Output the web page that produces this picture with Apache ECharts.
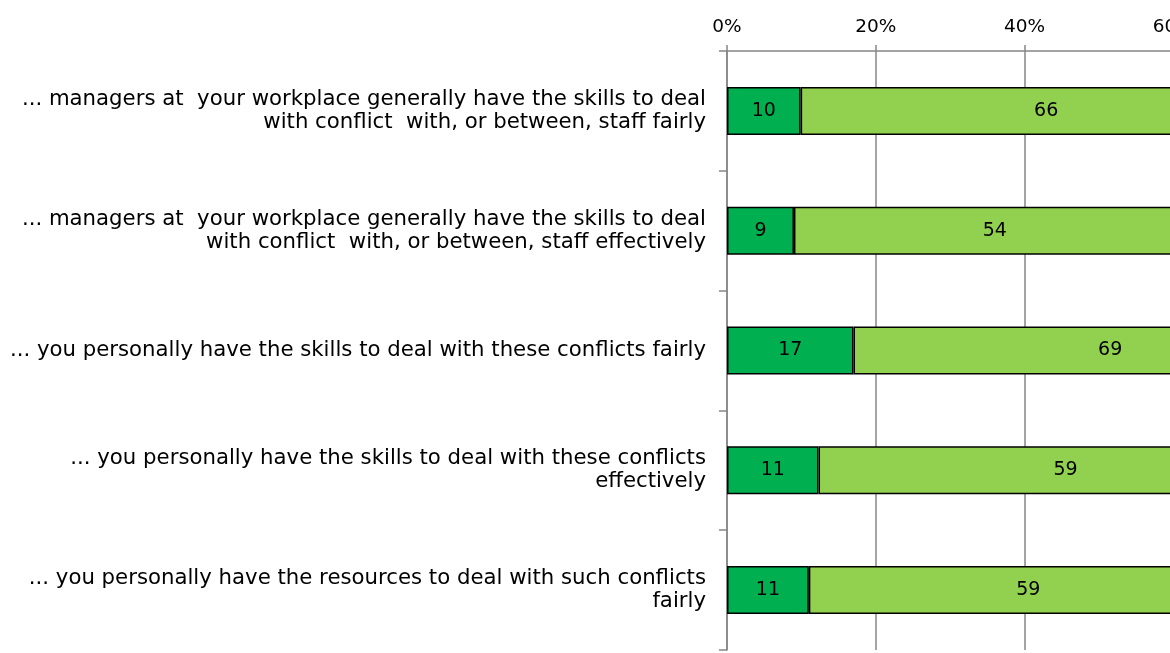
<!DOCTYPE html>
<html>
<head>
<meta charset="utf-8">
<script src="https://cdn.jsdelivr.net/npm/echarts@6/dist/echarts.min.js"></script>
<style>
  html, body { margin: 0; padding: 0; background: #fff; }
  #chart { width: 1170px; height: 653px; }
</style>
</head>
<body>
<div id="chart"></div>
<script>
  var statements = [
    '... managers at  your workplace generally have the skills to deal\nwith conflict  with, or between, staff fairly',
    '... managers at  your workplace generally have the skills to deal\nwith conflict  with, or between, staff effectively',
    '... you personally have the skills to deal with these conflicts fairly',
    '... you personally have the skills to deal with these conflicts\neffectively',
    '... you personally have the resources to deal with such conflicts\nfairly'
  ];
  // bar lengths as measured on the picture
  var stronglyAgree = [9.9, 9.0, 17.0, 12.3, 11.0];
  var agree = [66, 54, 69, 66.4, 59];
  // numbers printed on the bars
  var stronglyAgreeLabels = ['10', '9', '17', '11', '11'];
  var agreeLabels = ['66', '54', '69', '59', '59'];
  var xTicks = [0, 20, 40, 60, 80, 100];

  var chart = echarts.init(document.getElementById('chart'));
  var grey = '#868686';

  function barSeries(name, values, labels, color) {
    return {
      name: name,
      type: 'bar',
      stack: 'total',
      data: values,
      barWidth: 48,
      itemStyle: { color: color, borderColor: '#000', borderWidth: 1.5 },
      label: {
        show: true,
        position: 'inside',
        color: '#000',
        fontFamily: 'DejaVu Sans',
        fontSize: 19,
        formatter: function (p) { return labels[p.dataIndex]; }
      },
      emphasis: { disabled: true }
    };
  }

  chart.setOption({
    animation: false,
    grid: { left: 727, top: 51, width: 744, height: 599, containLabel: false, outerBoundsMode: 'none' },
    xAxis: {
      type: 'value',
      position: 'top',
      min: xTicks[0],
      max: xTicks[xTicks.length - 1],
      interval: 20,
      axisLine: { show: true, lineStyle: { color: grey, width: 1.5 } },
      axisTick: { show: true, length: 6, lineStyle: { color: grey, width: 1.5 } },
      splitLine: { show: true, lineStyle: { color: grey, width: 1.5 } },
      axisLabel: {
        margin: 14,
        color: '#000',
        fontFamily: 'DejaVu Sans',
        fontSize: 18.5,
        formatter: '{value}%'
      }
    },
    yAxis: {
      type: 'category',
      inverse: true,
      data: statements,
      axisLine: { show: true, lineStyle: { color: grey, width: 1.5 } },
      axisTick: { show: true, length: 8, alignWithLabel: false, lineStyle: { color: grey, width: 1.5 } },
      axisLabel: {
        margin: 21,
        color: '#000',
        fontFamily: 'DejaVu Sans',
        fontSize: 21.25,
        lineHeight: 23,
        align: 'right'
      }
    },
    series: [
      barSeries('Strongly agree', stronglyAgree, stronglyAgreeLabels, '#00B050'),
      barSeries('Agree', agree, agreeLabels, '#92D050')
    ]
  });
</script>
</body>
</html>
